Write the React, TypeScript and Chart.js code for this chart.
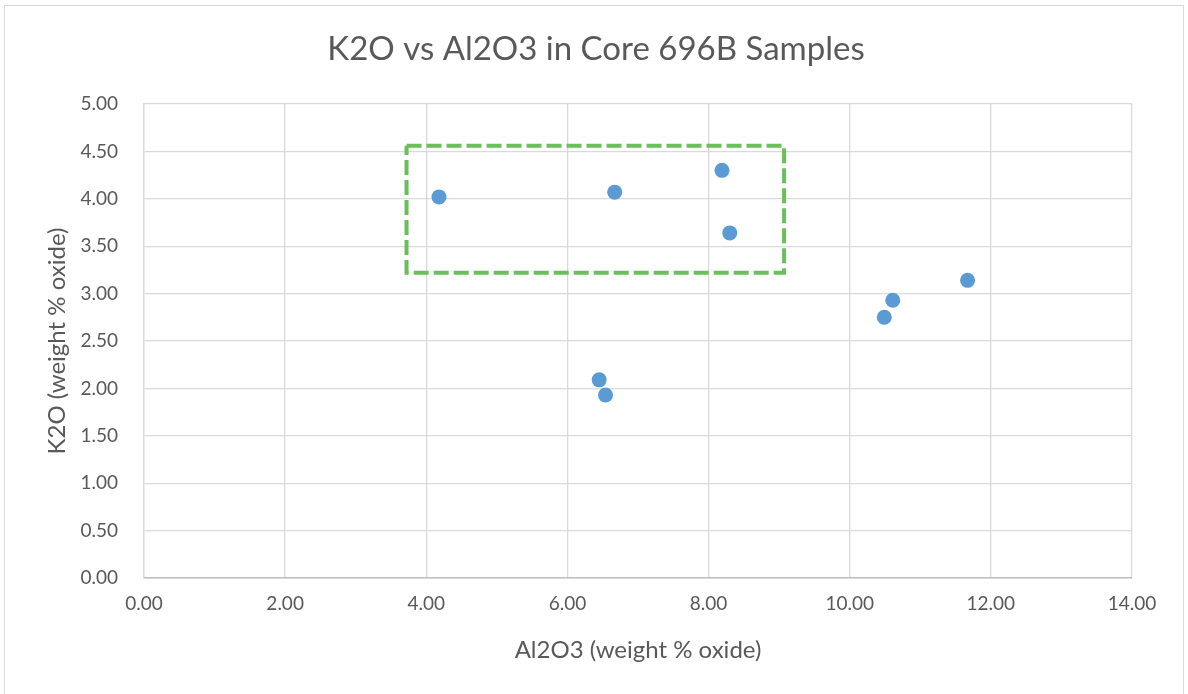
import React, { useEffect, useRef } from "react";
import { Chart, registerables } from "chart.js";

Chart.register(...registerables);

const al2o3: number[] = [4.18, 6.67, 8.19, 8.30, 6.45, 6.54, 10.49, 10.61, 11.67];
const k2o: number[] = [4.02, 4.07, 4.30, 3.64, 2.09, 1.93, 2.75, 2.93, 3.14];

const boxX: number[] = [3.72, 9.07, 9.07, 3.72, 3.72];
const boxY: number[] = [4.56, 4.56, 3.22, 3.22, 4.56];

const titleText = "K2O vs Al2O3 in Core 696B Samples";
const xTitle = "Al2O3 (weight % oxide)";
const yTitle = "K2O (weight % oxide)";
const xMin = 0, xMax = 14, xStep = 2;
const yMin = 0, yMax = 5, yStep = 0.5;

const FONT = "Lato, 'Open Sans', sans-serif";
const GREY = "#595959";

export default function App() {
  const ref = useRef<HTMLCanvasElement | null>(null);
  useEffect(() => {
    if (!ref.current) return;
    const chart = new Chart(ref.current, {
      type: "scatter",
      data: {
        datasets: [
          {
            label: "Samples",
            data: al2o3.map((x, i) => ({ x, y: k2o[i] })),
            backgroundColor: "#5B9BD5",
            borderColor: "#5B9BD5",
            borderWidth: 0,
            pointRadius: 7.5,
            showLine: false,
          },
          {
            label: "Group",
            data: boxX.map((x, i) => ({ x, y: boxY[i] })),
            showLine: true,
            borderColor: "#6abf59",
            borderWidth: 4,
            borderDash: [15, 5],
            pointRadius: 0,
            fill: false,
            tension: 0,
          } as any,
        ],
      },
      options: {
        responsive: false,
        animation: false,
        layout: { padding: { left: 60, right: 56, top: 0, bottom: 0 } },
        plugins: {
          legend: { display: false },
          tooltip: { enabled: false },
          title: {
            display: true,
            text: titleText,
            color: GREY,
            font: { family: FONT, size: 33, weight: "normal" as any, lineHeight: 1.2 },
            padding: { top: 30, bottom: 34.4 },
          },
        },
        scales: {
          x: {
            type: "linear",
            min: xMin,
            max: xMax,
            ticks: {
              stepSize: xStep,
              color: GREY,
              font: { family: FONT, size: 19 },
              padding: 14,
              callback: (v: any) => Number(v).toFixed(2),
            },
            grid: { color: "#d9d9d9", lineWidth: 1.3, drawTicks: false },
            border: { color: "#bfbfbf", width: 1.5 },
            title: {
              display: true,
              text: xTitle,
              color: GREY,
              font: { family: FONT, size: 24, lineHeight: 1.2 },
              padding: { top: 0, bottom: 29.6 },
            },
            afterFit: (s: any) => { s.height = 116; },
          },
          y: {
            type: "linear",
            min: yMin,
            max: yMax,
            ticks: {
              stepSize: yStep,
              color: GREY,
              font: { family: FONT, size: 19 },
              padding: 26,
              callback: (v: any) => Number(v).toFixed(2),
            },
            grid: { color: "#d9d9d9", lineWidth: 1.3, drawTicks: false },
            border: { color: "#d9d9d9", width: 1.3 },
            title: {
              display: true,
              text: yTitle,
              color: GREY,
              font: { family: FONT, size: 24, lineHeight: 1.2 },
              padding: { top: -17.4, bottom: 0 },
            },
            afterFit: (s: any) => { s.width = 84; },
          },
        },
      },
    });
    return () => chart.destroy();
  }, []);
  return (
    <div style={{ position: "fixed", left: 0, top: 0, width: 1188, height: 694, background: "#fff" }}>
      <div style={{ position: "absolute", left: 4, top: 5, width: 1180, height: 700, border: "1.5px solid #d9d9d9", boxSizing: "border-box" }} />
      <canvas ref={ref} width={1188} height={694} style={{ position: "absolute", left: 0, top: 0 }} />
    </div>
  );
}
